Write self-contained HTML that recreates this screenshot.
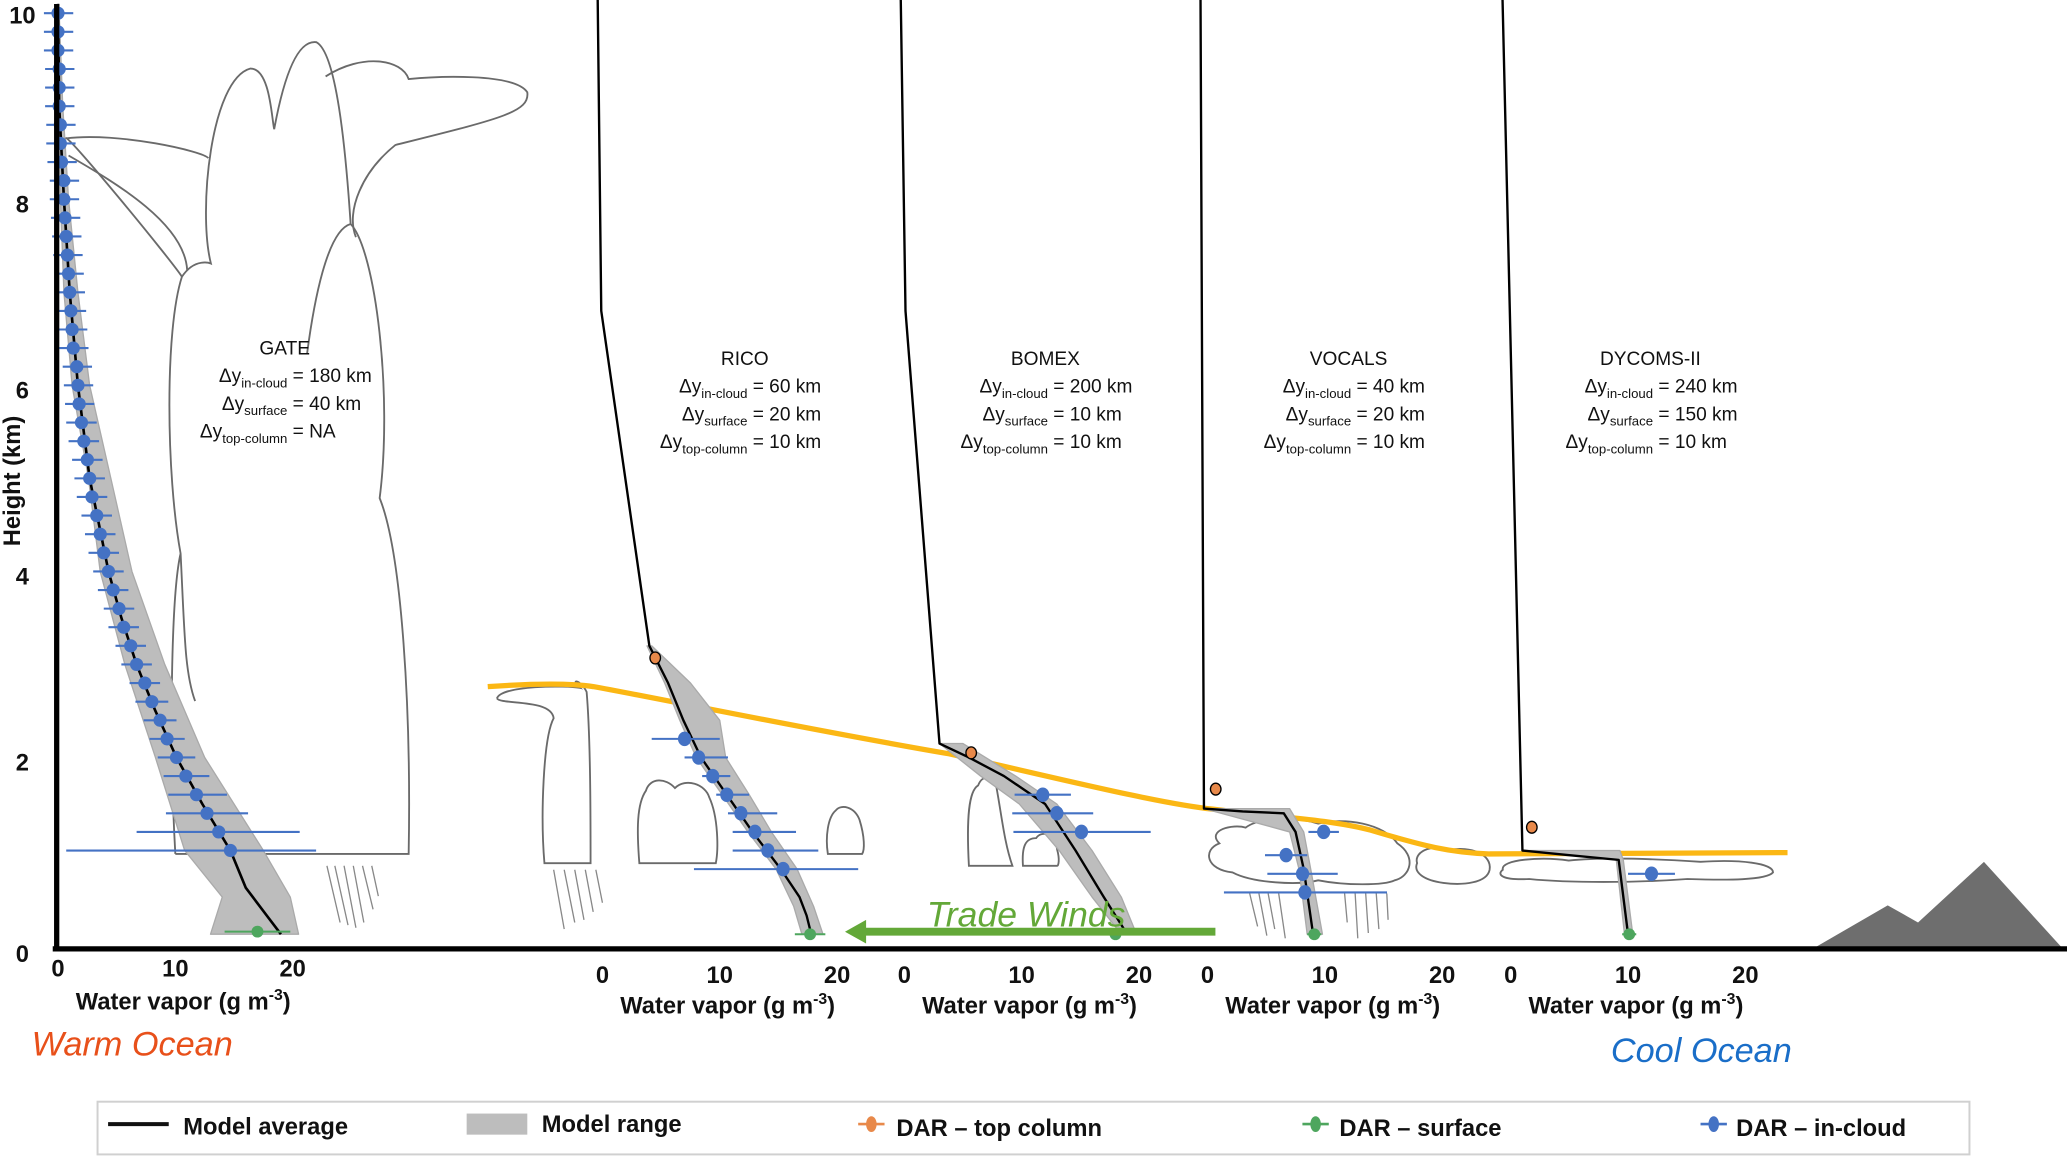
<!DOCTYPE html>
<html><head><meta charset="utf-8">
<style>
html,body{margin:0;padding:0;background:#fff;}
svg{display:block;}
text{font-family:"Liberation Sans Narrow","Liberation Sans",sans-serif;}
.lbl{font-family:"Liberation Sans",sans-serif;font-size:14.5px;fill:#111;}
.tick{font-weight:bold;font-size:18px;fill:#111;}
.axl{font-weight:bold;font-size:18px;fill:#111;}
.cloud{fill:none;stroke:#6a6a6a;stroke-width:1.4;}
.rain{stroke:#888;stroke-width:1;}
</style></head>
<body>
<svg id="chart" width="2067" height="1161" viewBox="0 0 1568 881" preserveAspectRatio="none" xmlns="http://www.w3.org/2000/svg">
<rect width="1568" height="881" fill="#fff"/>
<g id="clouds">
  <path class="cloud" d="M133,648 L310,648 C312,540 305,420 288,378 C298,300 285,190 266,170 C248,175 238,230 233,268"/>
  <path class="cloud" d="M133,648 C128,560 130,450 137,420 C126,360 125,250 138,210 C148,195 160,200 160,200 C150,160 160,60 190,52 C205,52 206,90 208,98 C215,60 225,30 240,32 C255,40 262,110 266,170"/>
  <path class="cloud" d="M138,210 C132,200 50,100 50,105 C90,100 155,115 158,120"/>
  <path class="cloud" d="M52,118 C90,140 140,170 142,205"/>
  <path class="cloud" d="M247,58 C275,40 305,45 310,60 C330,58 390,55 400,70 C402,85 380,90 300,110 C275,130 262,160 270,180"/>
  <path class="cloud" d="M137,420 C140,480 140,510 148,532"/>
  <path class="cloud" d="M377,530 C380,520 430,520 440,522 C432,515 440,515 445,525 C448,560 448,620 448,655 L413,655 C410,620 412,560 420,545 C418,530 380,535 377,530"/>
  <path class="cloud" d="M485,655 C483,630 483,610 490,600 C493,590 505,590 512,598 C520,590 535,595 538,605 C545,620 545,645 543,655 Z"/>
  <path class="cloud" d="M628,648 C626,635 628,620 634,615 C638,610 648,612 652,622 C656,635 656,645 654,648 Z"/>
  <path class="cloud" d="M735,657 C733,620 735,600 742,596 C745,588 752,588 756,598 C760,620 762,640 768,657 Z"/>
  <path class="cloud" d="M776,657 C775,642 778,636 786,636 C790,630 800,632 802,645 C804,652 803,657 802,657 Z"/>
  <path class="cloud" d="M925,640 C915,630 935,625 945,628 C955,620 985,620 1000,625 C1020,620 1050,625 1060,640 C1075,650 1070,665 1058,668 C1050,672 1020,672 1000,668 C985,672 950,670 935,662 C915,660 912,645 925,640 Z"/>
  <path class="cloud" d="M1075,655 C1072,645 1090,640 1100,645 C1115,642 1132,648 1130,660 C1128,670 1110,672 1095,670 C1080,668 1072,662 1075,655 Z"/>
  <path class="cloud" d="M1140,660 C1138,652 1170,650 1190,653 C1220,650 1260,652 1290,654 C1320,652 1345,655 1345,662 C1340,668 1310,668 1280,667 C1240,670 1190,670 1160,667 C1140,668 1135,664 1140,660 Z"/>
</g>
<g id="rain">
  <path class="rain" d="M248,657 L258,700 M254,657 L264,702 M261,657 L270,704 M268,657 L276,700 M275,657 L283,690 M282,657 L287,680 M420,660 L428,705 M428,660 L436,700 M436,660 L443,698 M444,660 L450,692 M452,660 L457,685 M948,678 L954,703 M955,678 L961,710 M962,678 L967,705 M970,678 L975,712 M1020,678 L1022,700 M1028,678 L1030,712 M1036,678 L1038,708 M1044,678 L1046,705 M1052,678 L1053,698"/>
</g>
<g id="mountain">
  <polygon points="1375,720 1432,687 1455,700 1505,654 1565,720" fill="#6e6e6e"/>
</g>
<path id="inversion" d="M370,521 C400,519 430,518 450,521 C500,530 620,555 720,572 C800,590 880,610 920,614 C970,620 1010,622 1040,630 C1080,642 1100,647 1130,648 L1356,647" fill="none" stroke="#fbb714" stroke-width="4"/>
<g id="marks"></g>
<g id="axes">
  <line x1="43" y1="3" x2="43" y2="722" stroke="#000" stroke-width="4"/>
  <line x1="40" y1="720" x2="1568" y2="720" stroke="#000" stroke-width="4"/>
</g>
<g id="ticks"></g>
<text x="0" y="0" transform="translate(15,365) rotate(-90)" text-anchor="middle" class="axl" font-size="17">Height (km)</text>
<g id="panel-labels"></g>
<text x="24" y="801" font-size="26" font-style="italic" fill="#e8501a" style="font-family:'Liberation Sans',sans-serif">Warm Ocean</text>
<text x="1222" y="806" font-size="26" font-style="italic" fill="#1a6ec8" style="font-family:'Liberation Sans',sans-serif">Cool Ocean</text>
<g>
  <line x1="922" y1="707" x2="655" y2="707" stroke="#63a838" stroke-width="6"/>
  <polygon points="641,707 657,698 657,716" fill="#63a838"/>
  <text x="703" y="703" font-size="27" font-style="italic" fill="#63a838">Trade Winds</text>
</g>
<g id="legend">
  <rect x="74" y="836" width="1420" height="40" fill="#fff" stroke="#d0d0d0" stroke-width="1.5"/>
  <g><line x1="82" y1="853" x2="128" y2="853" stroke="#111" stroke-width="3"/><text x="139" y="861" class="axl" font-size="21">Model average</text></g>
  <g><rect x="354" y="845" width="46" height="16" fill="#bdbdbd"/><text x="411" y="859" class="axl" font-size="21">Model range</text></g>
  <g><line x1="651" y1="853" x2="671" y2="853" stroke="#e8894a" stroke-width="2"/><ellipse cx="661" cy="853" rx="4" ry="6" fill="#e8894a"/><text x="680" y="862" class="axl" font-size="21">DAR – top column</text></g>
  <g><line x1="988" y1="853" x2="1008" y2="853" stroke="#4ea65e" stroke-width="2"/><ellipse cx="998" cy="853" rx="4" ry="6" fill="#4ea65e"/><text x="1016" y="862" class="axl" font-size="21">DAR – surface</text></g>
  <g><line x1="1290" y1="853" x2="1310" y2="853" stroke="#4472c4" stroke-width="2"/><ellipse cx="1300" cy="853" rx="4" ry="6" fill="#4472c4"/><text x="1317" y="862" class="axl" font-size="21">DAR – in-cloud</text></g>
</g>
</svg>
<script>
// ---- data ----
const panelNames = ["GATE","RICO","BOMEX","VOCALS","DYCOMS-II"];
const panelX0 = [44,457,686,916,1146];
const xTicks = [0,10,20];
const yTicks = [0,2,4,6,8,10];
const dyInCloud = ["180 km","60 km","200 km","40 km","240 km"];
const dySurface = ["40 km","20 km","10 km","20 km","150 km"];
const dyTop = ["NA","10 km","10 km","10 km","10 km"];

// GATE in-cloud DAR
const gateH = [1.0,1.2,1.4,1.6,1.8,2.0,2.2,2.4,2.6,2.8,3.0,3.2,3.4,3.6,3.8,4.0,4.2,4.4,4.6,4.8,5.0,5.2,5.4,5.6,5.8,6.0,6.2,6.4,6.6,6.8,7.0,7.2,7.4,7.6,7.8,8.0,8.2,8.4,8.6,8.8,9.0,9.2,9.4,9.6,9.8,10.0];
const gateV = [14.7,13.7,12.7,11.8,10.9,10.1,9.3,8.7,8.0,7.4,6.7,6.2,5.6,5.2,4.7,4.3,3.9,3.6,3.3,2.9,2.7,2.5,2.2,2.0,1.8,1.7,1.6,1.3,1.2,1.1,1.0,0.9,0.8,0.7,0.6,0.5,0.5,0.3,0.2,0.2,0.1,0.1,0.1,0.0,0.0,0.0];
const gateErrLo = [14.0,7.0,3.5,2.4,1.9,1.6,1.5,1.4,1.4,1.3,1.3,1.3,1.3,1.3,1.3,1.3,1.3,1.3,1.3,1.3,1.3,1.3,1.3,1.3,1.2,1.2,1.2,1.2,1.2,1.2,1.2,1.2,1.2,1.2,1.2,1.2,1.2,1.2,1.2,1.2,1.2,1.2,1.2,1.2,1.2,1.2];
const gateErrHi = [7.3,6.9,3.5,2.6,2.0,1.6,1.5,1.4,1.4,1.3,1.3,1.3,1.3,1.3,1.3,1.3,1.3,1.3,1.3,1.3,1.3,1.3,1.3,1.3,1.3,1.3,1.3,1.3,1.3,1.3,1.3,1.3,1.3,1.3,1.3,1.3,1.3,1.3,1.3,1.3,1.3,1.3,1.3,1.3,1.3,1.3];
const gateModelH = [0.1,0.3,0.6,1.0,1.5,2.0,2.5,3.0,3.5,4.0,5.0,6.0,7.0,8.0,9.0,10.1];
const gateModelV = [19.0,17.8,16.0,14.7,12.3,10.1,8.3,6.7,5.4,4.3,2.7,1.7,1.0,0.5,0.1,0.0];
const gateBandH = [0.1,0.5,1.0,2.0,3.0,4.0,5.0,6.0,7.0,8.0,9.0,10.0];
const gateBandLo = [13.0,14.0,10.8,8.3,5.7,3.6,2.6,1.2,0.5,0.2,0.0,0.0];
const gateBandHi = [20.5,19.8,17.5,12.5,9.1,6.3,4.5,2.7,1.7,0.9,0.4,0.1];

// RICO
const ricoH = [2.2,2.0,1.8,1.6,1.4,1.2,1.0,0.8];
const ricoV = [7.0,8.2,9.4,10.6,11.8,13.0,14.1,15.4];
const ricoErrLo = [2.8,1.2,0.9,0.9,1.1,1.9,3.0,7.6];
const ricoErrHi = [3.0,2.5,1.5,1.9,3.1,3.5,4.3,6.4];
const ricoModelH = [10.15,6.8,3.2,2.8,2.4,2.0,1.6,1.2,0.8,0.5,0.3,0.1];
const ricoModelV = [-0.4,-0.1,4.0,5.6,6.9,8.4,10.6,12.8,15.2,16.8,17.4,17.8];
const ricoBandH = [3.2,2.8,2.4,2.0,1.6,1.2,0.8,0.4,0.1];
const ricoBandLo = [3.8,5.3,6.6,8.0,10.2,12.4,14.8,16.3,17.0];
const ricoBandHi = [4.2,7.5,10.0,10.5,12.5,14.4,16.6,18.0,18.8];

// BOMEX
const bomexH = [1.6,1.4,1.2];
const bomexV = [11.8,13.0,15.1];
const bomexErrLo = [2.4,3.8,5.8];
const bomexErrHi = [2.4,3.1,5.9];
const bomexModelH = [10.15,6.8,2.15,2.0,1.8,1.5,1.0,0.5,0.1];
const bomexModelV = [-0.3,0.1,3.0,5.5,8.5,12.0,14.6,17.0,19.0];
const bomexBandH = [2.15,1.8,1.5,1.0,0.5,0.1];
const bomexBandLo = [3.0,6.5,9.8,13.2,16.0,18.5];
const bomexBandHi = [5.0,9.5,13.0,16.0,18.5,19.8];

// VOCALS
const vocalsH = [1.2,0.95,0.75,0.55];
const vocalsV = [9.9,6.7,8.1,8.3];
const vocalsErrLo = [1.3,1.8,3.0,6.9];
const vocalsErrHi = [1.3,1.8,3.0,7.0];
const vocalsModelH = [10.15,1.45,1.42,1.4,1.2,0.8,0.1];
const vocalsModelV = [-0.6,-0.3,3.0,6.5,7.5,8.2,9.0];
const vocalsBandH = [1.45,1.2,0.8,0.1];
const vocalsBandLo = [-0.3,7.0,7.8,8.5];
const vocalsBandHi = [7.0,8.2,8.8,9.8];

// DYCOMS-II
const dycomsH = [0.75];
const dycomsV = [12.0];
const dycomsErrLo = [2.0];
const dycomsErrHi = [2.0];
const dycomsModelH = [10.15,1.0,0.95,0.9,0.1];
const dycomsModelV = [-0.7,1.0,5.0,9.2,10.0];
const dycomsBandH = [1.0,0.9,0.1];
const dycomsBandLo = [1.0,9.0,9.7];
const dycomsBandHi = [9.3,9.6,10.4];

// top-column and surface DAR (per panel; null = none)
const topH = [null,3.07,2.05,1.66,1.25];
const topV = [null,4.5,5.7,0.7,1.8];
const surfH = [0.1,0.1,0.1,0.1,0.1];
const surfV = [17.0,17.7,18.0,9.1,10.1];
const surfErr = [2.8,1.3,1.3,0.6,0.6];

// ---- drawing ----
const NS = "http://www.w3.org/2000/svg";
const marks = document.getElementById('marks');
const ticksG = document.getElementById('ticks');
const labelsG = document.getElementById('panel-labels');
function xs(p, v){ return panelX0[p] + v*8.9; }
function ys(h){ return 716 - h*70.6; }
function mk(tag, attrs, parent){ const e=document.createElementNS(NS,tag); for(const k in attrs) e.setAttribute(k,attrs[k]); (parent||marks).appendChild(e); return e; }

const profiles = [
  {h:gateH,v:gateV,lo:gateErrLo,hi:gateErrHi,mh:gateModelH,mv:gateModelV,bh:gateBandH,bl:gateBandLo,bu:gateBandHi},
  {h:ricoH,v:ricoV,lo:ricoErrLo,hi:ricoErrHi,mh:ricoModelH,mv:ricoModelV,bh:ricoBandH,bl:ricoBandLo,bu:ricoBandHi},
  {h:bomexH,v:bomexV,lo:bomexErrLo,hi:bomexErrHi,mh:bomexModelH,mv:bomexModelV,bh:bomexBandH,bl:bomexBandLo,bu:bomexBandHi},
  {h:vocalsH,v:vocalsV,lo:vocalsErrLo,hi:vocalsErrHi,mh:vocalsModelH,mv:vocalsModelV,bh:vocalsBandH,bl:vocalsBandLo,bu:vocalsBandHi},
  {h:dycomsH,v:dycomsV,lo:dycomsErrLo,hi:dycomsErrHi,mh:dycomsModelH,mv:dycomsModelV,bh:dycomsBandH,bl:dycomsBandLo,bu:dycomsBandHi}
];

profiles.forEach((P,p)=>{
  const g = mk('g',{});
  
  
  let pts = P.bh.map((h,i)=>xs(p,P.bl[i]).toFixed(1)+','+ys(h).toFixed(1));
  for(let i=P.bh.length-1;i>=0;i--) pts.push(xs(p,P.bu[i]).toFixed(1)+','+ys(P.bh[i]).toFixed(1));
  const band = mk('polygon',{points:pts.join(' '),fill:'#bdbdbd',stroke:'#aaa','stroke-width':1,'stroke-linejoin':'round'},g);
  
  
  const lp = P.mh.map((h,i)=>xs(p,P.mv[i]).toFixed(1)+','+ys(h).toFixed(1)).join(' ');
  const line = mk('polyline',{points:lp,fill:'none',stroke:'#000','stroke-width':p===0?2:1.8,'stroke-linejoin':'round'},g);
  
  
  P.h.forEach((h,i)=>{
    const y=ys(h);
    const eb = mk('line',{x1:xs(p,P.v[i]-P.lo[i]),x2:xs(p,P.v[i]+P.hi[i]),y1:y,y2:y,stroke:'#4472c4','stroke-width':1.6},g);
    
    
    const c = mk('ellipse',{cx:xs(p,P.v[i]),cy:y,rx:5,ry:p===0?5:5.5,fill:'#4472c4'},g);
    
    
  });
  const sy=ys(surfH[p])+ (p===0?-2:0);
  const se = mk('line',{x1:xs(p,surfV[p]-surfErr[p]),x2:xs(p,surfV[p]+surfErr[p]),y1:sy,y2:sy,stroke:'#4ea65e','stroke-width':1.6},g);
  
  
  const sc = mk('ellipse',{cx:xs(p,surfV[p]),cy:sy,rx:4.5,ry:4.5,fill:'#4ea65e'},g);
  
  
  if(topH[p]!==null){
    const tc = mk('ellipse',{cx:xs(p,topV[p]),cy:ys(topH[p]),rx:4,ry:4.5,fill:'#e8894a',stroke:'#000','stroke-width':1},g);
    
    
  }
  xTicks.forEach(t=>{
    const tt = mk('text',{x:xs(p,t),y:p===0?741:746,'text-anchor':'middle',class:'tick'},ticksG);
    tt.textContent=t;
    
    
  });
  const ax = mk('text',{x:xs(p,10)+6,y:p===0?766:769,'text-anchor':'middle',class:'axl'},ticksG);
  ax.innerHTML='Water vapor (g m<tspan dy="-7" font-size="12">-3</tspan><tspan dy="7">)</tspan>';
  
  
  const cx = p===0?216:[0,565,793,1023,1252][p];
  const ty = p===0?264:272;
  const tl = mk('text',{x:cx,y:ty+5,'text-anchor':'middle',class:'lbl'},labelsG);
  tl.textContent=panelNames[p];
  
  
  const rows=[['in-cloud',dyInCloud[p]],['surface',dySurface[p]],['top-column',dyTop[p]]];
  rows.forEach((r,k)=>{
    const t = mk('text',{x:cx+2,y:ty+26+k*21,'text-anchor':'end',class:'lbl'},labelsG);
    t.innerHTML='Δy<tspan font-size="10" dy="4">'+r[0]+'</tspan>';
    
    
    const t2 = mk('text',{x:cx+6,y:ty+26+k*21,'text-anchor':'start',class:'lbl'},labelsG);
    t2.textContent='= '+r[1];
    
    
  });
});
yTicks.forEach(t=>{
  const tt = mk('text',{x:17,y:ys(t)+ (t===10?2:t===0?8:4) +6,'text-anchor':'middle',class:'tick'},ticksG);
  tt.textContent=t;
  
  
});
</script>
</body></html>
